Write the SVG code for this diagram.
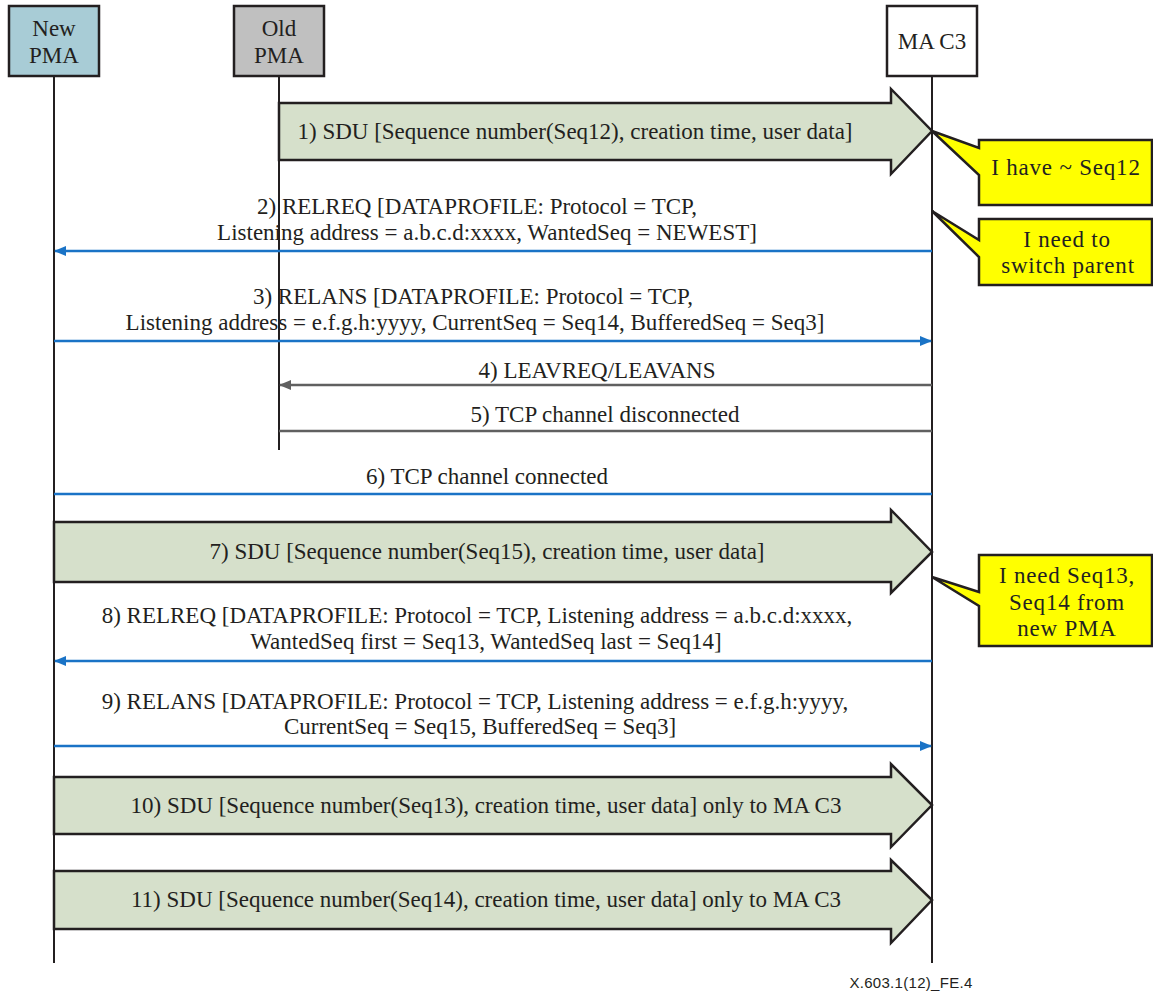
<svg xmlns="http://www.w3.org/2000/svg" width="1153" height="991" viewBox="0 0 1153 991">
<style>
.t{font-family:"Liberation Serif","Times New Roman",serif;font-size:23px;fill:#231f20;text-anchor:middle}
.c{letter-spacing:0.8px}
.box{stroke:#231f20;stroke-width:2.5}
.life{stroke:#231f20;stroke-width:2;fill:none}
.blue{stroke:#1a73c6;stroke-width:2.5;fill:none}
.gray{stroke:#606060;stroke-width:2.5;fill:none}
.fat{fill:#d6e0cb;stroke:#231f20;stroke-width:2.5;stroke-linejoin:miter}
.call{fill:#ffff00;stroke:#231f20;stroke-width:2.5}
.foot{font-family:"Liberation Sans",Arial,sans-serif;font-size:15px;letter-spacing:0.3px;fill:#231f20;text-anchor:middle}
</style>
<defs>
<marker id="ab" markerWidth="12" markerHeight="10" refX="11" refY="5" orient="auto" markerUnits="userSpaceOnUse"><path d="M0,0 L12,5 L0,10 Z" fill="#1a73c6"/></marker>
<marker id="ag" markerWidth="12" markerHeight="10" refX="11" refY="5" orient="auto" markerUnits="userSpaceOnUse"><path d="M0,0 L12,5 L0,10 Z" fill="#606060"/></marker>
</defs>
<rect width="1153" height="991" fill="#fff"/>
<g id="lifelines">
<line class="life" x1="54" y1="76" x2="54" y2="963"/>
<line class="life" x1="279" y1="76" x2="279" y2="450"/>
<line class="life" x1="932" y1="76" x2="932" y2="963"/>
</g>
<g id="newpma"><rect class="box" x="9" y="6" width="90" height="70" fill="#a8ccd6"/><text class="t" x="54" y="36">New</text><text class="t" x="54" y="63">PMA</text></g>
<g id="oldpma"><rect class="box" x="234" y="6" width="90" height="70" fill="#c0c0c0"/><text class="t" x="279" y="36">Old</text><text class="t" x="279" y="63">PMA</text></g>
<g id="mac3"><rect class="box" x="887" y="6" width="90" height="70" fill="#fff"/><text class="t" x="932" y="49">MA C3</text></g>
<g id="connectors">
<g id="m1"><path class="fat" d="M279,103 H891 V89 L932,131 L891,174 V160 H279 Z"/><text class="t" x="575" y="139">1) SDU [Sequence number(Seq12), creation time, user data]</text></g>
<g id="m2"><text class="t" x="477" y="214">2) RELREQ [DATAPROFILE: Protocol = TCP,</text><text class="t" x="487" y="240">Listening address = a.b.c.d:xxxx, WantedSeq = NEWEST]</text><line class="blue" x1="932" y1="251" x2="55" y2="251" marker-end="url(#ab)"/></g>
<g id="m3"><text class="t" x="473" y="304">3) RELANS [DATAPROFILE: Protocol = TCP,</text><text class="t" x="475" y="330">Listening address = e.f.g.h:yyyy, CurrentSeq = Seq14, BufferedSeq = Seq3]</text><line class="blue" x1="54" y1="341" x2="931" y2="341" marker-end="url(#ab)"/></g>
<g id="m4"><text class="t" x="597" y="378">4) LEAVREQ/LEAVANS</text><line class="gray" x1="932" y1="385" x2="280" y2="385" marker-end="url(#ag)"/></g>
<g id="m5"><text class="t" x="605" y="422">5) TCP channel disconnected</text><line class="gray" x1="279" y1="431" x2="932" y2="431"/></g>
<g id="m6"><text class="t" x="487" y="484">6) TCP channel connected</text><line class="blue" x1="54" y1="494" x2="932" y2="494"/></g>
<g id="m7"><path class="fat" d="M54,522 H891 V510 L932,552 L891,593 V582 H54 Z"/><text class="t" x="487" y="559">7) SDU [Sequence number(Seq15), creation time, user data]</text></g>
<g id="m8"><text class="t" x="477" y="623">8) RELREQ [DATAPROFILE: Protocol = TCP, Listening address = a.b.c.d:xxxx,</text><text class="t" x="486" y="649">WantedSeq first = Seq13,  WantedSeq last = Seq14]</text><line class="blue" x1="932" y1="661" x2="55" y2="661" marker-end="url(#ab)"/></g>
<g id="m9"><text class="t" x="475" y="709">9) RELANS [DATAPROFILE: Protocol = TCP, Listening address = e.f.g.h:yyyy,</text><text class="t" x="480" y="734">CurrentSeq = Seq15, BufferedSeq = Seq3]</text><line class="blue" x1="54" y1="746" x2="931" y2="746" marker-end="url(#ab)"/></g>
<g id="m10"><path class="fat" d="M54,777 H891 V764 L932,805 L891,847 V834 H54 Z"/><text class="t" x="486" y="813">10) SDU [Sequence number(Seq13), creation time, user data] only to MA C3</text></g>
<g id="m11"><path class="fat" d="M54,871 H891 V860 L932,900 L891,943 V929 H54 Z"/><text class="t" x="486" y="907">11) SDU [Sequence number(Seq14), creation time, user data] only to MA C3</text></g>
</g>
<g id="note1"><path class="call" d="M979,140 H1152 V205 H979 V175 L932,131 L979,148 Z"/><text class="t c" x="1066" y="175">I have ~ Seq12</text></g>
<g id="note2"><path class="call" d="M979,219 H1152 V285 H979 V257 L932,211 L979,240 Z"/><text class="t c" x="1067" y="247">I  need to</text><text class="t c" x="1068" y="273">switch parent</text></g>
<g id="note3"><path class="call" d="M979,555 H1152 V646 H979 V606 L932,577 L979,592 Z"/><text class="t c" x="1067" y="583">I  need Seq13,</text><text class="t c" x="1067" y="610">Seq14 from</text><text class="t c" x="1067" y="636">new PMA</text></g>
<text class="foot" x="911" y="988">X.603.1(12)_FE.4</text>
</svg>
